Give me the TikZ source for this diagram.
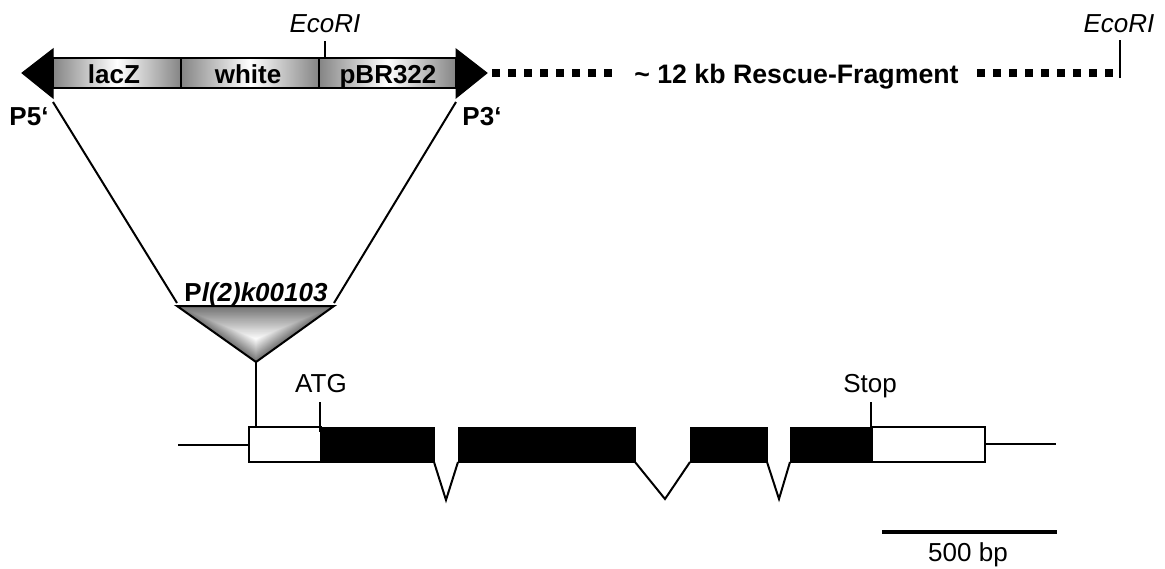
\documentclass[tikz,border=0pt]{standalone}
\usepackage{fontspec}
\usetikzlibrary{calc}
\setmainfont{Liberation Sans}
\tikzset{
  ln/.style={draw=black,line width=2pt},
  lab/.style={font=\fontsize{26}{30}\selectfont,inner sep=0pt,text=black,anchor=base},
  ilab/.style={lab,font=\fontsize{26}{30}\selectfont\itshape},
  blab/.style={lab,font=\fontsize{26}{30}\selectfont\bfseries},
  seg/.style={left color=black!48,right color=black!48,middle color=white,draw=black,line width=1.6pt},
  exon/.style={fill=black,draw=black,line width=1pt},
  utr/.style={fill=white,draw=black,line width=2pt},
  tip/.style={fill=black,draw=black,line width=1pt},
  dots/.style={draw=black,line width=8pt,dash pattern=on 8pt off 8pt},
}
\begin{document}
\begin{tikzpicture}[x=1pt,y=-1pt]
\useasboundingbox (0,0) rectangle (1165,568);
% P element bar
\path[seg] (53,58) rectangle (181,88);
\path[seg] (181,58) rectangle (319,88);
\path[seg] (319,58) rectangle (456,88);
\node[blab] (lacz) at (114,83) {lacZ};
\node[blab] (white) at (248,83) {white};
\node[blab] (pbr) at (388,83) {pBR322};
\path[tip] (53,49) -- (22,73) -- (53,98) -- cycle;
\path[tip] (456,49) -- (487,73) -- (456,98) -- cycle;
\coordinate (e1) at (325,58);
\coordinate (e1t) at (325,41);
\draw[ln] (e1) -- (e1t);
\node[ilab] (eco1) at (325,32) {EcoRI};
\node[blab] (p5) at (29,125) {P5‘};
\node[blab] (p3) at (482,125) {P3‘};
% rescue fragment
\coordinate (d1a) at (492,73);
\coordinate (d1b) at (613,73);
\coordinate (d2a) at (977,73);
\coordinate (d2b) at (1113,73);
\draw[dots] (d1a) -- (d1b);
\draw[dots] (d2a) -- (d2b);
\node[blab,font=\fontsize{26.7}{30}\selectfont\bfseries] (frag) at (796.5,83) {\textasciitilde{} 12 kb Rescue-Fragment};
\coordinate (e2) at (1120,78);
\coordinate (e2t) at (1120,40);
\draw[ln] (e2) -- (e2t);
\node[ilab] (eco2) at (1119,32) {EcoRI};
% insertion triangle
\coordinate (tl) at (177,306);
\coordinate (tr) at (334,306);
\coordinate (tb) at (256,362);
\coordinate (tc) at (256,339);
\foreach \k in {0,...,30}{
  \pgfmathsetmacro{\f}{1-\k/30}
  \pgfmathsetmacro{\g}{55*(1-\k/30)}
  \fill[black!\g!white] ($(tc)!\f!(tl)$) -- ($(tc)!\f!(tr)$) -- ($(tc)!\f!(tb)$) -- cycle;
}
\draw[ln,line join=miter] (tl) -- (tr) -- (tb) -- cycle;
\node[blab] (pl) at (256,301) {P\textit{l(2)k00103}};
\coordinate (a1) at (53,102);
\coordinate (a2) at (456,102);
\coordinate (a3) at (177,303);
\coordinate (a4) at (334,303);
\draw[ln] (a1) -- (a3);
\draw[ln] (a2) -- (a4);
% gene
\coordinate (g0) at (178,445);
\coordinate (g1) at (1056,444);
\path[utr] (249,427) rectangle (321,462);
\path[utr] (872,427) rectangle (985,462);
\path[exon] (321,427) rectangle (434,462);
\path[exon] (458,427) rectangle (635,462);
\path[exon] (690,427) rectangle (767,462);
\path[exon] (790,427) rectangle (872,462);
\draw[ln] (g0) -- (249,445);
\draw[ln] (985,444) -- (g1);
\draw[ln,line join=miter] (434,462) -- (446,500) -- (458,462);
\draw[ln,line join=miter] (635,462) -- (665,499) -- (690,462);
\draw[ln,line join=miter] (767,462) -- (779,499) -- (790,462);
\draw[ln] (tb) -- (256,427);
\draw[ln] (320,402) -- (320,432);
\draw[ln] (871,402) -- (871,427);
\node[lab] (atg) at (321,392) {ATG};
\node[lab] (stop) at (870,392) {Stop};
\draw[draw=black,line width=4pt] (882,532) -- (1057,532);
\node[lab] (bp) at (968,561.5) {500 bp};
\end{tikzpicture}
\end{document}
